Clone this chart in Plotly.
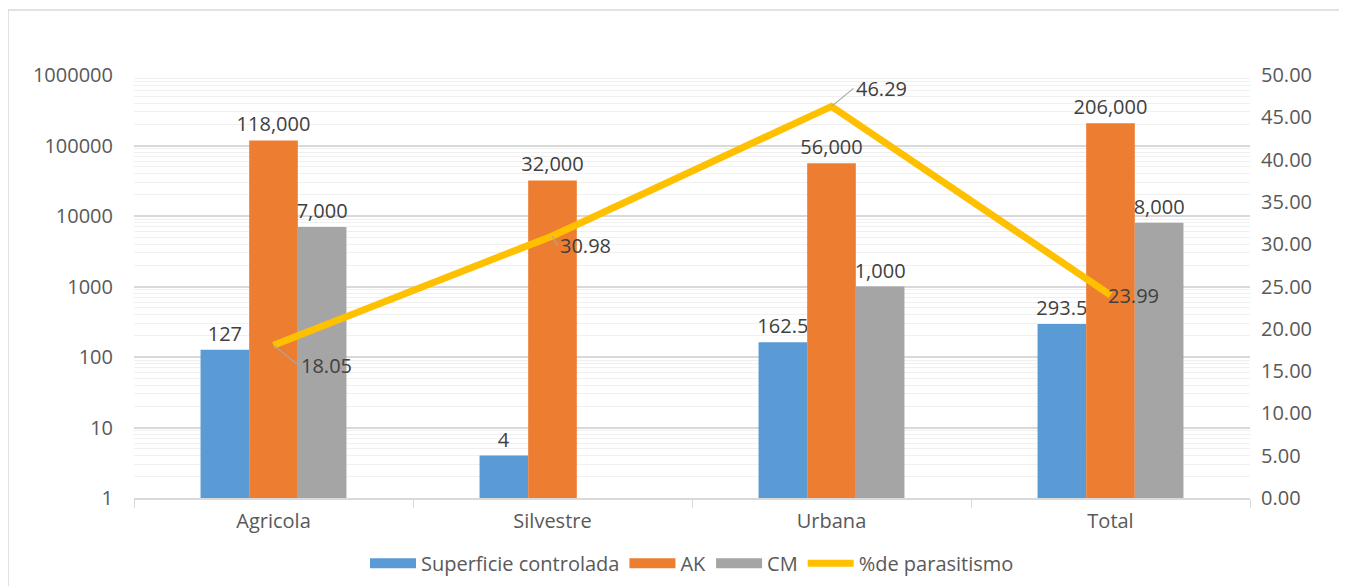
import plotly.graph_objects as go

categories = ["Agricola", "Silvestre", "Urbana", "Total"]
superficie = [127, 4, 162.5, 293.5]
superficie_labels = ["127", "4", "162.5", "293.5"]
ak = [118000, 32000, 56000, 206000]
ak_labels = ["118,000", "32,000", "56,000", "206,000"]
cm = [7000, None, 1000, 8000]
cm_labels = ["7,000", "", "1,000", "8,000"]
parasitismo = [18.05, 30.98, 46.29, 23.99]
parasitismo_labels = ["18.05", "30.98", "46.29", "23.99"]
left_ticks = [1, 10, 100, 1000, 10000, 100000, 1000000]
left_tick_text = ["1", "10", "100", "1000", "10000", "100000", "1000000"]

FONT = "Open Sans"
FS = 20
TXT = "#404040"
fig = go.Figure()
for name, vals, labs, col in [("Superficie controlada", superficie, superficie_labels, "#5B9BD5"),
                              ("AK", ak, ak_labels, "#ED7D31"),
                              ("CM", cm, cm_labels, "#A5A5A5")]:
    fig.add_trace(go.Bar(name=name, x=categories, y=vals, showlegend=False, legendgroup=name,
                         marker=dict(color=col, line=dict(width=0)), text=labs,
                         textposition="outside", cliponaxis=False, constraintext="none",
                         textfont=dict(size=FS, color=TXT, family=FONT)))
fig.add_trace(go.Scatter(name="%de parasitismo", x=categories, y=parasitismo,
                         yaxis="y2", mode="lines", showlegend=False, legendgroup="p",
                         line=dict(color="#FFC000", width=7)))
# legend keys (no data drawn)
for name, col, w in [("Superficie controlada", "#5B9BD5", 14), ("AK", "#ED7D31", 14),
                     ("CM", "#A5A5A5", 14), ("%de parasitismo", "#FFC000", 7)]:
    fig.add_trace(go.Scatter(name=name, x=[None], y=[None], mode="lines",
                             line=dict(color=col, width=w), showlegend=True))

offsets = [(25, 20, True), (5, 10, True), (22, -18, True), (-5, 0, False)]
for c, v, lab, (ax, ay, arrow) in zip(categories, parasitismo, parasitismo_labels, offsets):
    fig.add_annotation(x=c, y=v, yref="y2", text=lab, showarrow=True,
                       arrowhead=0, arrowwidth=1.2,
                       arrowcolor="#A6A6A6" if arrow else "rgba(0,0,0,0)",
                       ax=ax, ay=ay, xanchor="left",
                       font=dict(size=FS, color=TXT, family=FONT))

fig.update_layout(
    width=1339, height=600,
    paper_bgcolor="white", plot_bgcolor="white",
    margin=dict(l=126, r=97, t=67, b=110),
    barmode="group", bargap=0.477, bargroupgap=0,
    font=dict(family=FONT, size=FS, color="#595959"),
    showlegend=True,
    legend=dict(orientation="h", x=0.5, xanchor="center", y=-0.108, yanchor="top",
                font=dict(size=FS, color="#595959", family=FONT), itemwidth=46,
                traceorder="normal"),
    xaxis=dict(showline=True, linecolor="#D9D9D9", linewidth=1.5, automargin=False,
               ticks="outside", tickson="boundaries", ticklen=8, tickcolor="#D9D9D9",
               tickfont=dict(size=FS, color="#595959"), ticklabelstandoff=4),
    yaxis=dict(type="log", range=[0, 6], tickmode="array", tickvals=left_ticks,
               ticktext=left_tick_text, showgrid=True, gridcolor="#D9D9D9", gridwidth=1.5,
               minor=dict(showgrid=True, gridcolor="#F0F0F0", gridwidth=1, dtick="D1"),
               zeroline=False, tickfont=dict(size=FS, color="#595959"), ticks="",
               ticklabelstandoff=20, automargin=False),
    yaxis2=dict(overlaying="y", side="right", range=[0, 50], dtick=5, tickformat=".2f",
                showgrid=False, zeroline=False, tickfont=dict(size=FS, color="#595959"),
                ticklabelstandoff=10, automargin=False),
    shapes=[dict(type="rect", xref="paper", yref="paper",
                 x0=-126/1116, x1=1+93/1116, y0=-100/423, y1=1+65/423,
                 line=dict(color="#D9D9D9", width=1.5))],
)

fig.write_html("out.html")
